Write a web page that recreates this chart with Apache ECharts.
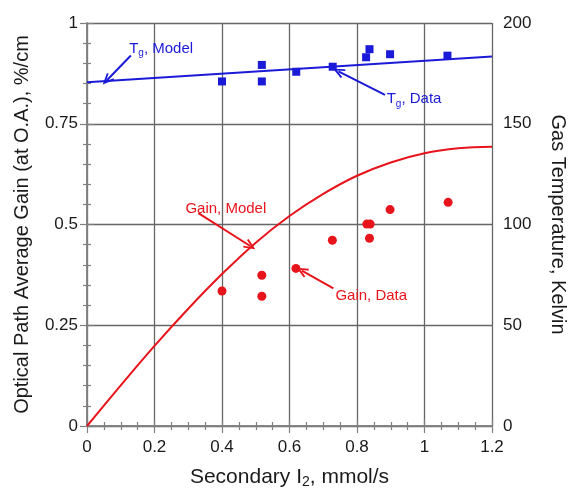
<!DOCTYPE html>
<html>
<head>
<meta charset="utf-8">
<script src="https://cdn.jsdelivr.net/npm/echarts@6/dist/echarts.min.js"></script>
<style>
  html, body { margin: 0; padding: 0; background: #fff; }
  #chart { width: 572px; height: 489px; }
</style>
</head>
<body>
<div id="chart"></div>
<script>
// Secondary I2 flow (mmol/s) on the x axis
const xTickValues = [0, 0.2, 0.4, 0.6, 0.8, 1, 1.2];
const gainTickLabels = ['0', '0.25', '0.5', '0.75', '1'];
const tempTickLabels = ['0', '50', '100', '150', '200'];

// Measured optical-path average gain, %/cm
const gainDataX = [0.40, 0.518, 0.518, 0.619, 0.727, 0.829, 0.839, 0.837, 0.898, 1.07];
const gainDataY = [0.335, 0.374, 0.322, 0.391, 0.461, 0.501, 0.501, 0.466, 0.537, 0.555];

// Modelled gain, %/cm
const gainModelX = [0, 0.1, 0.2, 0.3, 0.4, 0.5, 0.6, 0.7, 0.8, 0.9, 1.0, 1.1, 1.2];
const gainModelY = [0, 0.101, 0.199, 0.291, 0.377, 0.455, 0.521, 0.576, 0.621, 0.654, 0.677, 0.689, 0.693];

// Measured gas temperature, K
const tempDataX = [0.40, 0.518, 0.518, 0.62, 0.728, 0.827, 0.837, 0.898, 1.068];
const tempDataY = [171, 179.2, 171, 175.8, 178.3, 183, 187, 184.5, 183.8];

// Modelled gas temperature, K
const tempModelX = [0, 1.2];
const tempModelY = [170.6, 183.4];

const zip = (xs, ys) => xs.map((x, i) => [x, ys[i]]);

const FONT = '"Liberation Sans", Arial, sans-serif';
const RED = '#e8141b';
const BLUE = '#1a1ad8';
const GRID = '#666666';
const FRAME = '#808080';
const chevron = 'path://M5,0 L10,9.2 L8.4,10 L5,3.6 L1.6,10 L0,9.2 Z';

const chart = echarts.init(document.getElementById('chart'), null, { renderer: 'canvas' });

const tickStyle = { show: true, inside: true, length: 7, lineStyle: { color: FRAME, width: 1.2 } };
const minorStyle = { show: true, inside: true, length: 4, lineStyle: { color: FRAME, width: 1.2 } };

function arrow(from, to) {
  return [
    { coord: from, symbol: 'none' },
    { coord: to, symbol: chevron, symbolSize: [10, 12] }
  ];
}

chart.setOption({
  animation: false,
  backgroundColor: '#fff',
  textStyle: { fontFamily: FONT },
  grid: { left: 87, top: 23, width: 405, height: 403, containLabel: false, outerBoundsMode: 'none' },
  xAxis: [
    {
      type: 'value', position: 'bottom', min: 0, max: 1.2, interval: 0.2,
      axisLine: { show: true, lineStyle: { color: FRAME, width: 1.5 } },
      axisTick: tickStyle,
      minorTick: Object.assign({ splitNumber: 4 }, minorStyle),
      splitLine: { show: true, lineStyle: { color: GRID, width: 1.3 } },
      axisLabel: {
        color: '#1a1a1a', fontSize: 17, margin: 13, fontFamily: FONT,
        formatter: v => xTickValues.includes(+v.toFixed(1)) ? String(+v.toFixed(1)) : ''
      },
      name: 'Secondary I{sub|2}, mmol/s',
      nameLocation: 'middle', nameGap: 40,
      nameTextStyle: {
        color: '#1a1a1a', fontSize: 21, fontFamily: FONT,
        rich: { sub: { fontSize: 14, padding: [9, 0, 0, 0], color: '#1a1a1a', fontFamily: FONT } }
      }
    },
    {
      type: 'value', position: 'top', min: 0, max: 1.2, interval: 0.2,
      axisLine: { show: true, lineStyle: { color: FRAME, width: 1.5 } },
      axisTick: tickStyle,
      minorTick: Object.assign({ splitNumber: 4 }, minorStyle),
      splitLine: { show: false },
      axisLabel: { show: false }
    }
  ],
  yAxis: [
    {
      type: 'value', position: 'left', min: 0, max: 1, interval: 0.25,
      axisLine: { show: true, lineStyle: { color: FRAME, width: 1.5 } },
      axisTick: tickStyle,
      minorTick: Object.assign({ splitNumber: 5 }, minorStyle),
      splitLine: { show: true, lineStyle: { color: GRID, width: 1.3 } },
      axisLabel: {
        color: '#1a1a1a', fontSize: 17, margin: 9, fontFamily: FONT,
        formatter: (v) => gainTickLabels[Math.round(v / 0.25)]
      },
      name: 'Optical Path Average Gain (at O.A.), %/cm',
      nameLocation: 'middle', nameGap: 55, nameRotate: 90,
      nameTextStyle: { color: '#1a1a1a', fontSize: 20, fontFamily: FONT }
    },
    {
      type: 'value', position: 'right', min: 0, max: 200, interval: 50,
      axisLine: { show: true, lineStyle: { color: FRAME, width: 1.5 } },
      axisTick: tickStyle,
      minorTick: Object.assign({ splitNumber: 5 }, minorStyle),
      splitLine: { show: false },
      axisLabel: {
        color: '#1a1a1a', fontSize: 17, margin: 11, fontFamily: FONT,
        formatter: (v) => tempTickLabels[Math.round(v / 50)]
      },
      name: 'Gas Temperature, Kelvin',
      nameLocation: 'middle', nameGap: 56, nameRotate: -90,
      nameTextStyle: { color: '#1a1a1a', fontSize: 20, fontFamily: FONT }
    }
  ],
  series: [
    {
      name: 'Gain, Model', type: 'line', xAxisIndex: 0, yAxisIndex: 0,
      data: zip(gainModelX, gainModelY), smooth: 0.4, showSymbol: false, symbol: 'none',
      lineStyle: { color: RED, width: 2 }, z: 3,
      markLine: {
        silent: true, animation: false,
        lineStyle: { color: RED, width: 2, type: 'solid' },
        label: { show: false },
        data: [
          arrow([0.330, 0.528], [0.4836, 0.4467]),
          arrow([0.730, 0.3417], [0.6365, 0.3854])
        ]
      },
      markPoint: {
        silent: true, symbol: 'circle', symbolSize: 0,
        label: { show: true, color: RED, fontSize: 15, fontFamily: FONT, position: 'right', distance: 0 },
        data: [
          { coord: [0.2916, 0.540], value: 'Gain, Model', label: { formatter: 'Gain, Model' } },
          { coord: [0.736, 0.3225], value: 'Gain, Data', label: { formatter: 'Gain, Data' } }
        ]
      }
    },
    {
      name: 'Gain, Data', type: 'scatter', xAxisIndex: 0, yAxisIndex: 0,
      data: zip(gainDataX, gainDataY), symbol: 'circle', symbolSize: 9,
      itemStyle: { color: RED, opacity: 1 }, z: 4
    },
    {
      name: 'Tg, Model', type: 'line', xAxisIndex: 0, yAxisIndex: 1,
      data: zip(tempModelX, tempModelY), showSymbol: false, symbol: 'none',
      lineStyle: { color: BLUE, width: 2 }, z: 3,
      markLine: {
        silent: true, animation: false,
        lineStyle: { color: BLUE, width: 2, type: 'solid' },
        label: { show: false },
        data: [
          arrow([0.130, 183.9], [0.059, 171.6]),
          arrow([0.883, 164.3], [0.745, 176.0])
        ]
      },
      markPoint: {
        silent: true, symbol: 'circle', symbolSize: 0,
        label: {
          show: true, color: BLUE, fontSize: 15, fontFamily: FONT, position: 'right', distance: 0,
          rich: { sub: { fontSize: 10, color: BLUE, padding: [10, 0, 0, 0], fontFamily: FONT } }
        },
        data: [
          { coord: [0.125, 187.4], value: 'Tg, Model', label: { formatter: 'T{sub|g}, Model' } },
          { coord: [0.888, 162.3], value: 'Tg, Data', label: { formatter: 'T{sub|g}, Data' } }
        ]
      }
    },
    {
      name: 'Tg, Data', type: 'scatter', xAxisIndex: 0, yAxisIndex: 1,
      data: zip(tempDataX, tempDataY), symbol: 'rect', symbolSize: 8,
      itemStyle: { color: BLUE, opacity: 1 }, z: 4
    }
  ]
});
</script>
</body>
</html>
